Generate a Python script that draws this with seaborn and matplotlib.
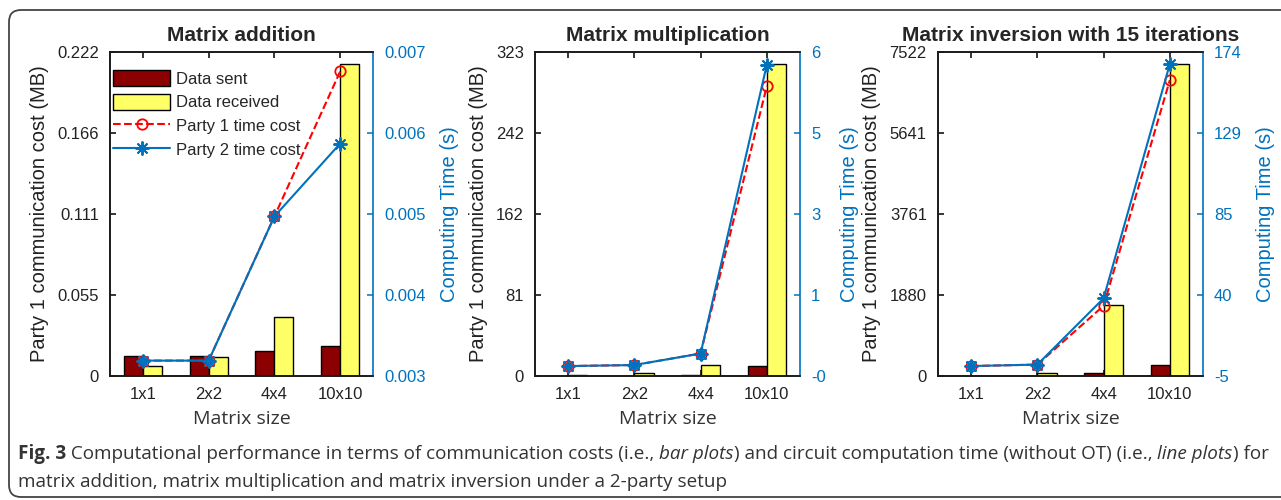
import numpy as np
import pandas as pd
import matplotlib
matplotlib.use("Agg")
import matplotlib.pyplot as plt
import seaborn as sns
from matplotlib.patches import Patch, FancyBboxPatch
from matplotlib.transforms import IdentityTransform
from matplotlib.offsetbox import TextArea, HPacker, AnchoredOffsetbox

sns.set_style("ticks")
plt.rcParams["font.family"] = ["Liberation Sans", "DejaVu Sans"]

# --- data ------------------------------------------------------------------
sizes = ["1x1", "2x2", "4x4", "10x10"]
titles = ["Matrix addition", "Matrix multiplication",
          "Matrix inversion with 15 iterations"]

# bars: party 1 communication cost (MB)
sent = [[0.0139, 0.0139, 0.0171, 0.0208],
        [0.2, 0.3, 0.6, 9.5],
        [1, 3, 65, 255]]
received = [[0.0069, 0.0130, 0.0402, 0.2140],
            [0.5, 2.7, 11.4, 311],
            [5, 70, 1648, 7250]]

# lines: computing time (s)
party1_time = [[0.00319, 0.00319, 0.00497, 0.00676],
               [0.09, 0.11, 0.33, 5.45],
               [0.5, 1.3, 33.8, 158.5]]
party2_time = [[0.00319, 0.00319, 0.00497, 0.00587],
               [0.09, 0.11, 0.33, 5.86],
               [0.5, 1.3, 37.9, 167.4]]

# axis ranges and tick labels (MATLAB style: 5 evenly spaced ticks)
left_max = [0.222, 323, 7522]
left_labels = [["0", "0.055", "0.111", "0.166", "0.222"],
               ["0", "81", "162", "242", "323"],
               ["0", "1880", "3761", "5641", "7522"]]
right_lim = [(0.003, 0.007), (-0.1, 6.1), (-5, 174)]
right_labels = [["0.003", "0.004", "0.005", "0.006", "0.007"],
                ["-0", "1", "3", "5", "6"],
                ["-5", "40", "85", "129", "174"]]

# --- styling ----------------------------------------------------------------
DARK_RED = "#8B0000"
YELLOW = "#FFFF66"
BLUE = "#0072BD"
RED = "#FF0000"

fig = plt.figure(figsize=(12.81, 5.0), dpi=100)
positions = [[0.0859, 0.248, 0.2053, 0.648],
             [0.4176, 0.248, 0.2069, 0.648],
             [0.7322, 0.248, 0.2069, 0.648]]

for i in range(3):
    ax = fig.add_axes(positions[i])
    df = pd.DataFrame({
        "size": sizes * 2,
        "kind": ["Data sent"] * 4 + ["Data received"] * 4,
        "cost": sent[i] + received[i],
    })
    sns.barplot(data=df, x="size", y="cost", hue="kind", order=sizes,
                palette=[DARK_RED, YELLOW], width=0.58, edgecolor="black",
                linewidth=1.0, saturation=1, legend=False, ax=ax)
    ax.set_xlim(-0.5, 3.5)
    ax.set_ylim(0, left_max[i])
    ax.set_yticks(np.linspace(0, left_max[i], 5))
    ax.set_yticklabels(left_labels[i])
    ax.set_xlabel("Matrix size", family="Open Sans", fontsize=14, labelpad=6,
                  color="#333333")
    ax.set_ylabel("Party 1 communication cost (MB)", fontsize=14.5, labelpad=6,
                  color="#222222")
    ax.set_title(titles[i], fontsize=15, fontweight="bold", pad=8)
    ax.tick_params(axis="both", direction="in", length=4, width=1.1,
                   labelsize=12, colors="black", pad=8)
    ax.tick_params(axis="x", top=True, labelcolor="#222222")
    ax.tick_params(axis="y", labelcolor="#222222")
    for sp in ax.spines.values():
        sp.set_linewidth(1.2)
        sp.set_color("#1a1a1a")

    ax2 = ax.twinx()
    xs = np.arange(len(sizes))
    sns.lineplot(x=xs, y=party1_time[i], ax=ax2, color=RED, linestyle="--",
                 linewidth=1.5, marker="o", markersize=7.5,
                 markerfacecolor="none", markeredgecolor=RED,
                 markeredgewidth=1.3, label="Party 1 time cost", legend=False)
    sns.lineplot(x=xs, y=party2_time[i], ax=ax2, color=BLUE, linestyle="-",
                 linewidth=1.5, marker=(8, 2, 0), markersize=10,
                 markeredgecolor=BLUE, markeredgewidth=1.4,
                 label="Party 2 time cost", legend=False)
    ax2.set_xlim(-0.5, 3.5)
    ax2.set_ylim(*right_lim[i])
    ax2.set_yticks(np.linspace(right_lim[i][0], right_lim[i][1], 5))
    ax2.set_yticklabels(right_labels[i])
    ax2.set_ylabel("Computing Time (s)", fontsize=14.5, color=BLUE, labelpad=10)
    ax2.tick_params(axis="y", direction="in", length=4, width=1.1,
                    labelsize=12, colors=BLUE, pad=8)
    for name, sp in ax2.spines.items():
        sp.set_linewidth(1.2)
        sp.set_color(BLUE if name == "right" else "#1a1a1a")
    ax.spines["right"].set_visible(False)

    if i == 0:
        handles = [Patch(facecolor=DARK_RED, edgecolor="black", label="Data sent"),
                   Patch(facecolor=YELLOW, edgecolor="black", label="Data received")]
        handles += ax2.get_lines()[:2]
        ax2.legend(handles=handles, loc="upper left", bbox_to_anchor=(0.0, 0.955),
                   frameon=False, fontsize=12, handlelength=3.4,
                   handleheight=1.1, labelspacing=0.42, handletextpad=0.35,
                   borderaxespad=0.0, borderpad=0.2)

# --- caption ----------------------------------------------------------------
cap_font = dict(family="Open Sans", fontsize=13.6, color="#333333")
line1 = [("Fig. 3", "bold", "normal"),
         (" Computational performance in terms of communication costs (i.e., ", "normal", "normal"),
         ("bar plots", "normal", "italic"),
         (") and circuit computation time (without OT) (i.e., ", "normal", "normal"),
         ("line plots", "normal", "italic"),
         (") for", "normal", "normal")]
line2 = [("matrix addition, matrix multiplication and matrix inversion under a 2-party setup",
          "normal", "normal")]

for parts, ypos in [(line1, 0.072), (line2, 0.018)]:
    areas = [TextArea(s, textprops=dict(fontweight=w, fontstyle=st, **cap_font))
             for s, w, st in parts]
    box = HPacker(children=areas, align="baseline", pad=0, sep=0)
    anchored = AnchoredOffsetbox(loc="lower left", child=box, pad=0, borderpad=0,
                                 frameon=False, bbox_to_anchor=(0.014, ypos),
                                 bbox_transform=fig.transFigure)
    fig.add_artist(anchored)

# rounded outer frame
frame = FancyBboxPatch((9, 3), 1300, 487, boxstyle="round,pad=0,rounding_size=12",
                       transform=IdentityTransform(), facecolor="none",
                       edgecolor="#444444", linewidth=1.3)
fig.add_artist(frame)

fig.savefig("out.png", dpi=100)
